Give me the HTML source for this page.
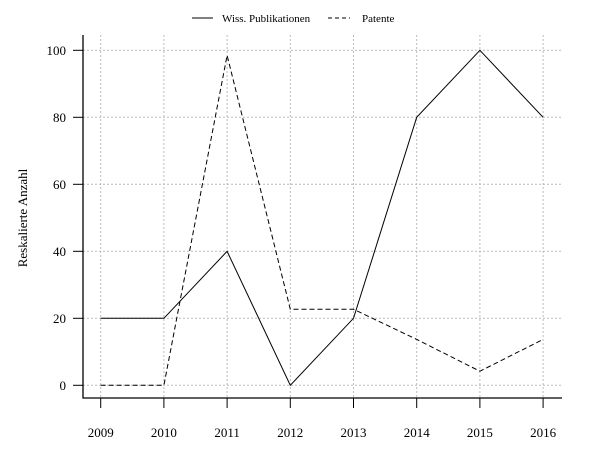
<!DOCTYPE html>
<html><head><meta charset="utf-8"><style>body{margin:0;background:#fff}svg{font-family:"Liberation Serif",serif}</style></head>
<body>
<svg id="c" width="600" height="450" xmlns="http://www.w3.org/2000/svg"></svg>
<script>
const years = [2009, 2010, 2011, 2012, 2013, 2014, 2015, 2016];
const publikationen = [20, 20, 40, 0, 20, 80, 100, 80];
const patente = [0, 0, 98.5, 22.7, 22.7, 13.7, 4.2, 13.7];
const yTicks = [0, 20, 40, 60, 80, 100];
const NS = "http://www.w3.org/2000/svg";
const svg = document.getElementById('c');
const x = v => 100.7 + (v - 2009) * 63.2;
const y = v => 385.3 - v * 3.35;
function el(t, a, p) { const e = document.createElementNS(NS, t); for (const k in a) e.setAttribute(k, a[k]); (p || svg).appendChild(e); return e; }
const grid = el('g', {});


years.forEach(v => el('line', {x1: x(v), x2: x(v), y1: 35, y2: 398, stroke: '#bbb', 'stroke-dasharray': '2,2'}, grid));
yTicks.forEach(v => el('line', {x1: 83, x2: 562, y1: y(v), y2: y(v), stroke: '#bbb', 'stroke-dasharray': '2,2'}, grid));
const ax = el('g', {});


el('path', {d: 'M83,35 V398 H562', fill: 'none', stroke: '#000', 'stroke-width': 1.3}, ax);
years.forEach(v => {
  el('line', {x1: x(v), x2: x(v), y1: 398, y2: 408, stroke: '#000'}, ax);
  const t = el('text', {x: x(v), y: 437, 'text-anchor': 'middle', 'font-size': 13}, ax);
  
  
  t.textContent = v;
});
yTicks.forEach(v => {
  el('line', {x1: 73, x2: 83, y1: y(v), y2: y(v), stroke: '#000'}, ax);
  const t = el('text', {x: 66, y: y(v) + 4.5, 'text-anchor': 'end', 'font-size': 13}, ax);
  
  
  t.textContent = v;
});
const yl = el('text', {x: 0, y: 0, transform: 'translate(27,218) rotate(-90)', 'text-anchor': 'middle', 'font-size': 13});


yl.textContent = 'Reskalierte Anzahl';
function series(vals, dash, name) {
  const p = el('polyline', {points: vals.map((v, i) => x(years[i]) + ',' + y(v)).join(' '), fill: 'none', stroke: '#000', 'stroke-width': 1, 'stroke-dasharray': dash});
  
  
}
series(publikationen, 'none', 'series-publikationen');
series(patente, '5,3', 'series-patente');
const lg = el('g', {});


el('line', {x1: 192, x2: 213, y1: 18, y2: 18, stroke: '#000'}, lg);
const t1 = el('text', {x: 222, y: 22, 'font-size': 11}, lg); t1.textContent = 'Wiss. Publikationen';
el('line', {x1: 328, x2: 350, y1: 18, y2: 18, stroke: '#000', 'stroke-dasharray': '4,3'}, lg);
const t2 = el('text', {x: 362, y: 22, 'font-size': 11}, lg); t2.textContent = 'Patente';
</script>
</body></html>
